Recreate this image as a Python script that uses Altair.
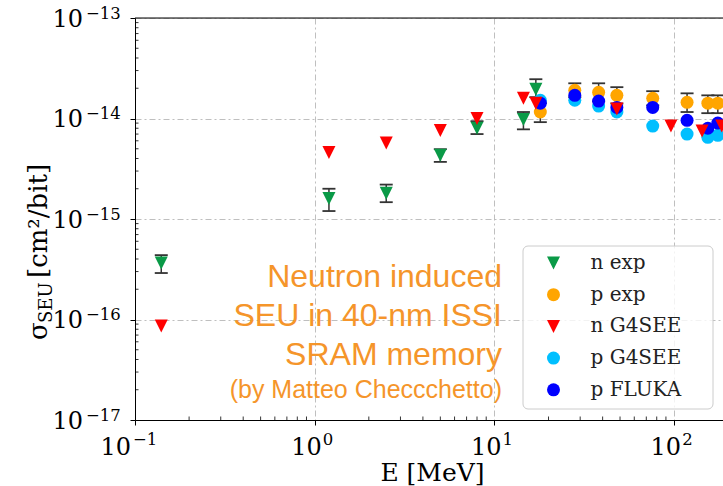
import math

import altair as alt
import pandas as pd

# ---- series definitions ------------------------------------------------------
series_names = ["n exp", "p exp", "n G4SEE", "p G4SEE", "p FLUKA"]
series_colors = ["#0a9a47", "#ffa500", "#ff0000", "#00bfff", "#0000ff"]
TRIANGLE_DOWN = "M0,1L-1,-1L1,-1Z"
series_shapes = [TRIANGLE_DOWN, "circle", TRIANGLE_DOWN, "circle", "circle"]

# neutron measurements (energy in MeV, cross section in cm^2/bit)
n_exp_energy = [0.14, 1.2, 2.5, 5.0, 8.0, 14.5, 17.0]
n_exp_sigma = [3.65e-16, 1.6e-15, 1.8e-15, 4.3e-15, 8.0e-15, 9.8e-15, 1.95e-14]
n_exp_low = [2.9e-16, 1.2e-15, 1.47e-15, 3.7e-15, 7.0e-15, 7.8e-15, 1.63e-14]
n_exp_high = [4.37e-16, 2.0e-15, 2.2e-15, 4.95e-15, 9.4e-15, 1.16e-14, 2.46e-14]

# proton measurements and proton simulations at the beam energies
p_energy = [18, 28, 38, 48, 76, 118, 154, 175]
p_exp_sigma = [1.16e-14, 1.91e-14, 1.82e-14, 1.7e-14, 1.59e-14, 1.45e-14, 1.42e-14, 1.42e-14]
p_exp_low = [9.2e-15, 1.63e-14, 1.48e-14, 1.41e-14, 1.35e-14, 1.16e-14, 1.13e-14, 1.13e-14]
p_exp_high = [1.42e-14, 2.24e-14, 2.24e-14, 2.05e-14, 1.87e-14, 1.78e-14, 1.7e-14, 1.7e-14]
p_g4see_sigma = [1.52e-14, 1.52e-14, 1.33e-14, 1.16e-14, 8.4e-15, 7.0e-15, 6.5e-15, 6.8e-15]
p_fluka_sigma = [1.42e-14, 1.7e-14, 1.49e-14, 1.29e-14, 1.29e-14, 9.6e-15, 8.0e-15, 9.0e-15]

# neutron simulation
n_g4see_energy = [0.14, 1.2, 2.5, 5.0, 8.0, 14.5, 17.0, 48, 96, 143, 184]
n_g4see_sigma = [8.6e-17, 4.6e-15, 5.7e-15, 7.6e-15, 1.0e-14, 1.59e-14, 1.42e-14,
                 1.24e-14, 8.4e-15, 7.5e-15, 8.4e-15]

note_lines = ["Neutron induced", "SEU in 40-nm ISSI", "SRAM memory"]
note_credit = "(by Matteo Checcchetto)"

x_major = [0.1, 1, 10, 100]
y_major = [1e-17, 1e-16, 1e-15, 1e-14, 1e-13]
x_range = [0.1, 187]
y_range = [1e-17, 1e-13]

# ---- layout ------------------------------------------------------------------
W, H = 588, 402
SERIF = "DejaVu Serif"
NOTE_COLOR = "#f5952a"
BAR_COLOR = "#333333"
BASE_SIZE = 24      # the "10" of a tick label
EXP_SIZE = 16.5     # its exponent


def exponent_text(v):
    return str(round(math.log10(v))).replace("-", "\u2212")


def minor_ticks(lo_exp, hi_exp, limit):
    return [m * 10.0 ** k for k in range(lo_exp, hi_exp) for m in range(2, 10)
            if m * 10.0 ** k < limit]


x_scale = alt.Scale(type="log", domain=x_range, nice=False)
y_scale = alt.Scale(type="log", domain=y_range, nice=False)

grid_style = dict(grid=True, gridColor="#b8b8b8", gridDash=[6, 3, 2, 3], gridWidth=0.9)

x_axis = alt.Axis(values=x_major, labels=False,
                  tickSize=5, tickColor="black", tickWidth=1,
                  domainColor="black", domainWidth=1,
                  title="E [MeV]", titleFont=SERIF, titleFontSize=25,
                  titleFontWeight="normal", titleColor="black",
                  titleX=297, titleY=60, titleBaseline="alphabetic", **grid_style)

y_axis = alt.Axis(values=y_major, labels=False,
                  tickSize=5, tickColor="black", tickWidth=1,
                  domainColor="black", domainWidth=1, title=None, **grid_style)

# ---- tables ------------------------------------------------------------------
draw_order = ["p exp", "p G4SEE", "p FLUKA", "n exp", "n G4SEE"]
series_values = {
    "p exp": (p_energy, p_exp_sigma),
    "p G4SEE": (p_energy, p_g4see_sigma),
    "p FLUKA": (p_energy, p_fluka_sigma),
    "n exp": (n_exp_energy, n_exp_sigma),
    "n G4SEE": (n_g4see_energy, n_g4see_sigma),
}
points = pd.concat(
    [pd.DataFrame({"series": name, "E": series_values[name][0],
                   "sigma": series_values[name][1], "rank": i})
     for i, name in enumerate(draw_order)],
    ignore_index=True)

errors = pd.concat(
    [pd.DataFrame({"E": n_exp_energy, "lo": n_exp_low, "hi": n_exp_high}),
     pd.DataFrame({"E": p_energy, "lo": p_exp_low, "hi": p_exp_high})],
    ignore_index=True)

x_labels = pd.DataFrame({"v": x_major, "e": [exponent_text(v) for v in x_major]})
y_labels = pd.DataFrame({"v": y_major, "e": [exponent_text(v) for v in y_major]})

one_row = pd.DataFrame({"k": [0]})

# ---- layers ------------------------------------------------------------------
legend = alt.Legend(title=None, orient="none", legendX=408.5, legendY=235,
                    labelFont=SERIF, labelFontSize=20, labelColor="#222222",
                    symbolSize=169, symbolStrokeWidth=0, symbolOpacity=1,
                    labelOffset=27, rowPadding=11.7, padding=0)

legend_box = alt.Chart(one_row).mark_rect(
    fill="white", fillOpacity=0.8, stroke="#cccccc", strokeWidth=1, cornerRadius=5
).encode(x=alt.value(388), x2=alt.value(578), y=alt.value(228), y2=alt.value(391))

bars = alt.Chart(errors).mark_rule(color=BAR_COLOR, strokeWidth=1.5).encode(
    x=alt.X("E:Q", scale=x_scale, axis=x_axis),
    y=alt.Y("lo:Q", scale=y_scale, axis=y_axis),
    y2="hi:Q",
)
cap_lo = alt.Chart(errors).mark_rule(color=BAR_COLOR, strokeWidth=1.8,
                                     xOffset=-6.5, x2Offset=6.5).encode(
    x=alt.X("E:Q", scale=x_scale), x2="E:Q", y=alt.Y("lo:Q", scale=y_scale))
cap_hi = alt.Chart(errors).mark_rule(color=BAR_COLOR, strokeWidth=1.8,
                                     xOffset=-6.5, x2Offset=6.5).encode(
    x=alt.X("E:Q", scale=x_scale), x2="E:Q", y=alt.Y("hi:Q", scale=y_scale))

marks = alt.Chart(points).mark_point(filled=True, opacity=1, size=169, strokeWidth=0).encode(
    x=alt.X("E:Q", scale=x_scale),
    y=alt.Y("sigma:Q", scale=y_scale),
    color=alt.Color("series:N", scale=alt.Scale(domain=series_names, range=series_colors),
                    legend=legend),
    shape=alt.Shape("series:N", scale=alt.Scale(domain=series_names, range=series_shapes),
                    legend=legend),
    order=alt.Order("rank:Q"),
)

# minor ticks point into the plot area
y_minor = alt.Chart(pd.DataFrame({"v": minor_ticks(-17, -13, 1e-13)})).mark_rule(
    color="black", strokeWidth=0.8).encode(
    y=alt.Y("v:Q", scale=y_scale), x=alt.value(0), x2=alt.value(3.5))
x_minor = alt.Chart(pd.DataFrame({"v": minor_ticks(-1, 3, x_range[1])})).mark_rule(
    color="black", strokeWidth=0.8).encode(
    x=alt.X("v:Q", scale=x_scale), y=alt.value(H), y2=alt.value(H - 3.5))

top_spine = alt.Chart(one_row).mark_rule(color="black", strokeWidth=1).encode(
    x=alt.value(0), x2=alt.value(W), y=alt.value(0))

# tick labels written as 10 with a raised exponent
y_base = alt.Chart(y_labels).mark_text(
    text="10", font=SERIF, fontSize=BASE_SIZE, color="black",
    align="right", baseline="alphabetic", dy=8.6
).encode(x=alt.value(-52), y=alt.Y("v:Q", scale=y_scale))
y_exp = alt.Chart(y_labels).mark_text(
    font=SERIF, fontSize=EXP_SIZE, color="black",
    align="left", baseline="alphabetic", dy=0.6
).encode(x=alt.value(-49), y=alt.Y("v:Q", scale=y_scale), text="e:N")

x_neg = "datum.v < 1"
x_pos = "datum.v >= 1"
X_BASE_Y, X_EXP_Y = 437, 427
x_base_neg = alt.Chart(x_labels).transform_filter(x_neg).mark_text(
    text="10", font=SERIF, fontSize=BASE_SIZE, color="black",
    align="right", baseline="alphabetic", dx=-4
).encode(x=alt.X("v:Q", scale=x_scale), y=alt.value(X_BASE_Y))
x_exp_neg = alt.Chart(x_labels).transform_filter(x_neg).mark_text(
    font=SERIF, fontSize=EXP_SIZE, color="black",
    align="left", baseline="alphabetic", dx=-2
).encode(x=alt.X("v:Q", scale=x_scale), y=alt.value(X_EXP_Y), text="e:N")
x_base_pos = alt.Chart(x_labels).transform_filter(x_pos).mark_text(
    text="10", font=SERIF, fontSize=BASE_SIZE, color="black",
    align="right", baseline="alphabetic", dx=7
).encode(x=alt.X("v:Q", scale=x_scale), y=alt.value(X_BASE_Y))
x_exp_pos = alt.Chart(x_labels).transform_filter(x_pos).mark_text(
    font=SERIF, fontSize=EXP_SIZE, color="black",
    align="left", baseline="alphabetic", dx=8
).encode(x=alt.X("v:Q", scale=x_scale), y=alt.value(X_EXP_Y), text="e:N")

note = alt.Chart(one_row).mark_text(
    text=note_lines, font="Liberation Sans", fontSize=32, color=NOTE_COLOR,
    align="right", baseline="alphabetic", lineHeight=39
).encode(x=alt.value(367), y=alt.value(269))
credit = alt.Chart(one_row).mark_text(
    text=note_credit, font="Liberation Sans", fontSize=25, color=NOTE_COLOR,
    align="right", baseline="alphabetic"
).encode(x=alt.value(367), y=alt.value(380))

# rotated y-axis title: sigma with a SEU subscript, then the unit
title_sigma = alt.Chart(one_row).mark_text(
    text="σ", font=SERIF, fontSize=26, color="black", angle=270,
    align="left", baseline="alphabetic").encode(x=alt.value(-88), y=alt.value(322))
title_sub = alt.Chart(one_row).mark_text(
    text="SEU", font=SERIF, fontSize=18, color="black", angle=270,
    align="left", baseline="alphabetic").encode(x=alt.value(-83), y=alt.value(305))
title_unit = alt.Chart(one_row).mark_text(
    text="[cm²/bit]", font=SERIF, fontSize=26, color="black", angle=270,
    align="left", baseline="alphabetic").encode(x=alt.value(-88), y=alt.value(260))

chart = alt.layer(
    bars, cap_lo, cap_hi, marks, y_minor, x_minor, top_spine, legend_box,
    y_base, y_exp, x_base_neg, x_exp_neg, x_base_pos, x_exp_pos,
    note, credit, title_sigma, title_sub, title_unit,
).properties(
    width=W, height=H,
    autosize=alt.AutoSizeParams(type="none"),
    padding={"left": 135, "top": 18, "right": 0, "bottom": 66},
).configure_view(stroke=None).configure(background="white")

chart.save("out.html", embed_options={"renderer": "svg", "actions": False})
